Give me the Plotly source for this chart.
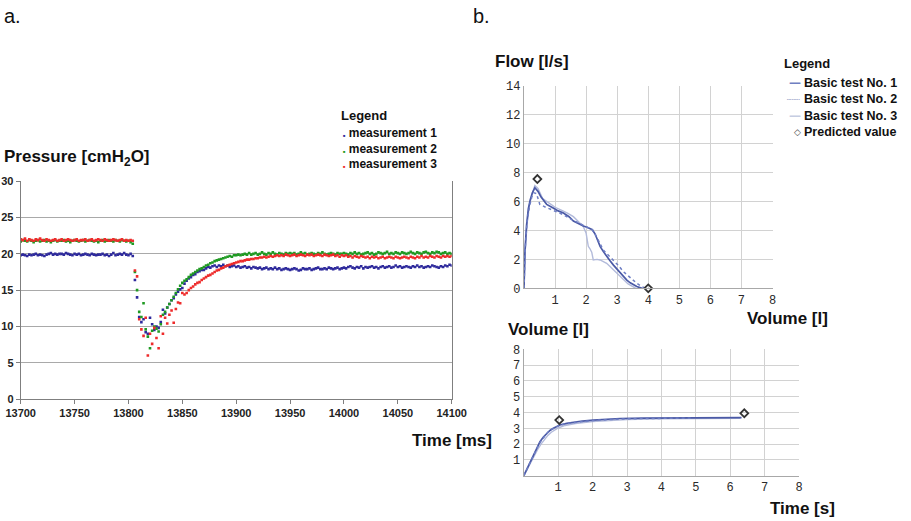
import plotly.graph_objects as go

W, H = 911, 521

# ---------------- Panel a data (pressure vs time, 2 ms sampling) ----------------
time_ms = list(range(13700, 14101, 2))

meas1 = [
    19.8, 19.9, 19.8, 19.7, 19.9, 19.8, 19.9, 20.0, 19.8, 19.9,
    19.8, 19.7, 19.9, 20.0, 20.1, 19.9, 20.0, 19.9, 20.0, 20.0,
    19.9, 20.1, 20.0, 19.9, 19.8, 20.0, 19.9, 20.0, 19.8, 19.9,
    20.0, 19.9, 19.8, 20.0, 19.9, 19.8, 19.9, 19.9, 20.0, 19.8,
    19.9, 19.7, 19.9, 20.1, 19.8, 19.9, 20.0, 19.9, 20.1, 19.9,
    19.8, 20.0, 19.7,
    16.4, 14.0, 11.3, 10.6, 11.0, 9.2, 9.0, 11.2, 10.3, 9.5,
    10.0, 9.8, 10.6, 12.3, 11.8, 12.6, 13.1, 13.6, 13.9, 14.4,
    14.8, 15.1, 15.3, 15.9, 16.3, 16.6, 16.8, 17.1, 17.2, 17.5,
    17.6, 17.8, 17.8, 18.0, 18.2, 18.1, 18.3, 18.4, 18.2, 18.4,
    18.3, 18.5, 18.3, 18.4, 18.2, 18.3, 18.4, 18.2,
    18.3, 18.1, 18.2, 18.3, 18.1, 18.2, 18.0, 18.2, 18.1, 18.0, 18.1, 17.9, 18.0,
    18.1, 17.9, 18.0, 17.9, 18.1, 17.9, 18.0, 17.8, 17.9, 18.0, 17.9, 17.8,
    17.9, 18.0, 17.9, 17.7, 17.8, 18.0, 17.9, 17.9, 18.0, 17.8, 17.9, 18.0, 18.1,
    17.9, 17.9, 18.0, 17.9, 18.1, 18.0, 17.9, 18.0, 18.1, 17.9, 18.0, 18.1,
    18.0, 18.2, 18.3, 18.1, 18.0, 18.2, 18.1, 18.3, 18.0, 18.2, 18.1, 18.2, 18.3,
    18.1, 18.2, 18.0, 18.2, 18.3, 18.1, 18.2, 18.3, 18.1, 18.2, 18.4, 18.2,
    18.3, 18.1, 18.2, 18.3, 18.2, 18.1, 18.3, 18.2, 18.4, 18.2, 18.3, 18.1, 18.2,
    18.3, 18.2, 18.4, 18.3, 18.2, 18.1, 18.3, 18.2, 18.4, 18.3, 18.5, 18.4,
]

meas2 = [
    21.7, 21.9, 21.8, 21.7, 21.9, 21.8, 21.6, 21.8, 21.9, 21.7,
    21.8, 21.9, 21.7, 21.8, 21.6, 21.8, 21.9, 21.7, 21.8, 21.8,
    21.9, 21.7, 21.8, 21.6, 21.8, 21.9, 21.8, 21.7, 21.8, 21.9,
    21.7, 21.8, 21.9, 21.8, 21.7, 21.8, 21.6, 21.8, 21.9, 21.7,
    21.8, 21.9, 21.8, 21.7, 21.9, 21.8, 21.7, 21.9, 21.8, 21.7,
    21.8, 21.6, 21.4,
    17.5, 15.0, 12.0, 11.3, 13.2, 9.6, 8.6, 7.0, 9.4, 10.0,
    9.7, 9.3, 10.3, 11.6, 12.0, 12.6, 13.1, 13.6, 14.1, 14.6,
    15.1, 15.6, 16.0, 16.3, 16.5, 16.8, 17.1, 17.3, 17.5, 17.7,
    17.9, 18.0, 18.2, 18.4, 18.5, 18.7, 18.8, 19.0, 19.1, 19.2,
    19.3, 19.4, 19.5, 19.6, 19.7, 19.6, 19.8, 19.8,
    19.9, 19.8, 19.9, 20.0, 19.9, 20.1, 19.9, 20.0, 20.1, 19.9, 20.0, 20.2, 20.0,
    19.9, 20.1, 20.0, 20.2, 20.0, 19.9, 20.1, 20.0, 19.9, 20.1, 20.0, 20.1,
    20.0, 20.1, 19.9, 20.0, 20.2, 20.0, 20.1, 19.9, 20.0, 20.1, 20.0, 19.9, 20.1,
    20.0, 20.2, 20.0, 19.9, 20.0, 20.1, 20.0, 19.9, 20.1, 20.0, 20.0, 20.1,
    20.0, 19.9, 20.1, 20.0, 20.2, 20.0, 20.1, 19.9, 20.0, 20.1, 20.2, 20.0, 20.1,
    19.9, 20.0, 20.2, 20.1, 20.0, 20.1, 20.3, 20.0, 20.1, 20.0, 20.2, 20.1,
    20.0, 20.2, 20.1, 20.0, 20.1, 20.3, 20.1, 20.0, 20.2, 20.1, 20.0, 20.2, 20.3,
    20.1, 20.0, 20.2, 20.1, 20.3, 20.2, 20.0, 20.1, 20.2, 20.0, 20.1, 20.0,
]

meas3 = [
    22.0, 21.9, 22.1, 21.8, 22.0, 21.9, 21.8, 22.0, 21.9, 22.1,
    21.9, 21.8, 22.0, 21.9, 21.8, 21.9, 22.0, 21.8, 21.9, 22.0,
    21.8, 21.9, 22.0, 21.9, 21.8, 21.9, 22.0, 21.8, 21.9, 21.9,
    22.0, 21.8, 21.9, 22.0, 21.8, 21.9, 22.0, 21.9, 21.8, 22.0,
    21.9, 21.8, 21.9, 22.0, 21.9, 21.8, 21.9, 22.0, 21.8, 21.9,
    21.8, 21.9, 21.8,
    17.7, 16.9, 11.0, 9.6, 8.7, 11.2, 6.0, 9.0, 7.6, 9.8,
    8.4, 7.0, 11.4, 9.0, 11.2, 10.4, 11.6, 12.2, 10.5, 12.4,
    13.3, 13.2, 14.6, 14.4, 14.6, 15.0, 15.3, 15.5, 15.8, 16.0,
    16.1, 16.4, 16.6, 16.8, 17.0, 17.1, 17.3, 17.5, 17.7, 17.8,
    18.0, 18.1, 18.3, 18.4, 18.5, 18.6, 18.7, 18.8,
    18.9, 19.0, 19.0, 19.1, 19.2, 19.2, 19.3, 19.3, 19.4, 19.4, 19.5, 19.5, 19.6,
    19.5, 19.6, 19.7, 19.6, 19.7, 19.8, 19.7, 19.8, 19.7, 19.9, 19.8, 19.7,
    19.8, 19.9, 19.7, 19.8, 19.9, 19.8, 19.7, 19.9, 19.8, 19.9, 19.7, 19.8, 19.9,
    19.8, 19.7, 19.9, 19.8, 19.7, 19.8, 19.9, 19.7, 19.8, 19.6, 19.8, 19.7,
    19.8, 19.6, 19.7, 19.5, 19.7, 19.6, 19.5, 19.7, 19.6, 19.5, 19.6, 19.4, 19.6,
    19.5, 19.6, 19.4, 19.5, 19.6, 19.4, 19.5, 19.6, 19.5, 19.4, 19.6, 19.5,
    19.4, 19.5, 19.6, 19.5, 19.4, 19.6, 19.5, 19.4, 19.6, 19.5, 19.7, 19.5, 19.6,
    19.5, 19.7, 19.6, 19.5, 19.7, 19.6, 19.5, 19.7, 19.6, 19.7, 19.6, 19.7,
]

# ---------------- Panel b data: flow-volume ----------------
fv_vol1 = [0, 0.03, 0.08, 0.14, 0.20, 0.27, 0.35, 0.45, 0.55, 0.73, 0.94, 1.10, 1.27, 1.45,
           1.59, 1.75, 1.91, 2.05, 2.12, 2.20, 2.29, 2.37, 2.45, 2.55, 2.66, 2.77, 2.88, 3.00,
           3.09, 3.20, 3.31, 3.42, 3.52, 3.63, 3.73, 3.80]
fv_flow1 = [0, 2.5, 4.3, 5.5, 6.1, 6.6, 6.95, 6.7, 6.3, 5.8, 5.55, 5.35, 5.2, 4.95,
            4.65, 4.45, 4.3, 4.2, 4.15, 4.05, 3.75, 3.3, 2.9, 2.55, 2.2, 1.9, 1.6, 1.3,
            1.05, 0.8, 0.57, 0.38, 0.23, 0.12, 0.05, 0]

fv_vol2 = [0, 0.04, 0.10, 0.18, 0.25, 0.32, 0.40, 0.51, 0.70, 0.94, 1.20, 1.50, 1.80, 2.05,
           2.20, 2.35, 2.55, 2.72, 2.88, 3.05, 3.20, 3.40, 3.63, 3.80, 3.92]
fv_flow2 = [0, 2.8, 4.6, 5.7, 6.3, 6.6, 6.55, 5.8, 5.6, 5.4, 5.15, 4.8, 4.45, 4.2,
            4.05, 3.5, 2.65, 2.3, 1.96, 1.55, 1.15, 0.75, 0.35, 0.1, 0]

fv_vol3 = [0, 0.04, 0.10, 0.18, 0.26, 0.35, 0.45, 0.60, 0.80, 1.00, 1.20, 1.40, 1.59, 1.75,
           1.90, 2.00, 2.07, 2.12, 2.18, 2.23, 2.35, 2.45, 2.55, 2.66, 2.77, 2.88, 3.05, 3.20,
           3.35, 3.52, 3.60]
fv_flow3 = [0, 2.6, 4.5, 5.8, 6.5, 7.1, 6.9, 6.2, 5.9, 5.6, 5.4, 5.2, 4.95, 4.6,
            4.3, 3.8, 2.9, 2.75, 2.5, 1.96, 2.0, 1.96, 1.85, 1.73, 1.5, 1.27, 0.95, 0.57,
            0.3, 0.1, 0]

pred_fv_vol = [0.43, 4.0]
pred_fv_flow = [7.55, 0.0]

# ---------------- Panel b data: volume-time ----------------
vt_t1 = [0, 0.1, 0.2, 0.28, 0.4, 0.47, 0.57, 0.67, 0.76, 0.86, 1.05, 1.25, 1.44, 1.7, 2.02,
         2.4, 2.8, 3.5, 4.2, 5.0, 5.7, 6.33]
vt_v1 = [0, 0.45, 0.92, 1.31, 1.85, 2.15, 2.45, 2.68, 2.86, 3.0, 3.21, 3.31, 3.38, 3.46, 3.52,
         3.58, 3.62, 3.65, 3.66, 3.67, 3.67, 3.68]
vt_t2 = [0, 0.1, 0.2, 0.3, 0.4, 0.5, 0.6, 0.7, 0.8, 0.9, 1.0, 1.2, 1.5, 1.8, 2.2, 2.6, 3.0,
         3.5, 4.0, 4.4, 4.85]
vt_v2 = [0, 0.47, 0.95, 1.38, 1.8, 2.2, 2.5, 2.75, 2.92, 3.05, 3.15, 3.28, 3.38, 3.45, 3.52,
         3.57, 3.6, 3.62, 3.63, 3.63, 3.64]
vt_t3 = [0, 0.1, 0.2, 0.3, 0.4, 0.5, 0.6, 0.7, 0.8, 0.9, 1.0, 1.2, 1.5, 2.0, 2.5, 3.0, 4.0,
         5.0, 6.0, 6.3]
vt_v3 = [0, 0.42, 0.85, 1.25, 1.65, 2.0, 2.3, 2.55, 2.75, 2.9, 3.02, 3.18, 3.3, 3.42, 3.5,
         3.55, 3.6, 3.62, 3.63, 3.64]
pred_vt_t = [1.03, 6.41]
pred_vt_v = [3.52, 3.95]

pressure_ticks = [0, 5, 10, 15, 20, 25, 30]
time_ticks = [13700, 13750, 13800, 13850, 13900, 13950, 14000, 14050, 14100]
flow_ticks = [0, 2, 4, 6, 8, 10, 12, 14]
grid8_ticks = [1, 2, 3, 4, 5, 6, 7, 8]

# ---------------- styling ----------------
SANS = "Liberation Sans, Arial, sans-serif"
MONO = "Liberation Mono, Courier New, monospace"
BLUE, GREEN, RED = "#2e2a9c", "#1f9a22", "#ee2b2b"
C1, C2, C3 = "#4b5aa6", "#6e7ec4", "#b3bbdb"
PRED = "#333333"


def fx(px):
    return px / W


def fy(py):
    return 1 - py / H


fig = go.Figure()

# panel a traces
for name, vals, col in [("measurement 1", meas1, BLUE),
                        ("measurement 2", meas2, GREEN),
                        ("measurement 3", meas3, RED)]:
    fig.add_trace(go.Scatter(x=time_ms, y=vals, mode="markers", name=name,
                             marker=dict(color=col, size=2.6, symbol="square"),
                             xaxis="x", yaxis="y", showlegend=False))

# flow-volume
fig.add_trace(go.Scatter(x=fv_vol3, y=fv_flow3, mode="lines", name="Basic test No. 3",
                         line=dict(color=C3, width=1.4), xaxis="x2", yaxis="y2", showlegend=False))
fig.add_trace(go.Scatter(x=fv_vol1, y=fv_flow1, mode="lines", name="Basic test No. 1",
                         line=dict(color=C1, width=1.7), xaxis="x2", yaxis="y2", showlegend=False))
fig.add_trace(go.Scatter(x=fv_vol2, y=fv_flow2, mode="lines", name="Basic test No. 2",
                         line=dict(color=C2, width=1.5, dash="dot"), xaxis="x2", yaxis="y2",
                         showlegend=False))
fig.add_trace(go.Scatter(x=pred_fv_vol, y=pred_fv_flow, mode="markers", name="Predicted value",
                         marker=dict(symbol="diamond-open", size=6, color=PRED, line=dict(width=1.8)),
                         xaxis="x2", yaxis="y2", showlegend=False, cliponaxis=False))

# volume-time
fig.add_trace(go.Scatter(x=vt_t3, y=vt_v3, mode="lines", name="Basic test No. 3",
                         line=dict(color=C3, width=1.4), xaxis="x3", yaxis="y3", showlegend=False))
fig.add_trace(go.Scatter(x=vt_t1, y=vt_v1, mode="lines", name="Basic test No. 1",
                         line=dict(color=C1, width=1.7), xaxis="x3", yaxis="y3", showlegend=False))
fig.add_trace(go.Scatter(x=vt_t2, y=vt_v2, mode="lines", name="Basic test No. 2",
                         line=dict(color=C2, width=1.5, dash="dot"), xaxis="x3", yaxis="y3",
                         showlegend=False))
fig.add_trace(go.Scatter(x=pred_vt_t, y=pred_vt_v, mode="markers", name="Predicted value",
                         marker=dict(symbol="diamond-open", size=6, color=PRED, line=dict(width=1.8)),
                         xaxis="x3", yaxis="y3", showlegend=False, cliponaxis=False))

tick_a = dict(family=SANS, size=11, color="#222222", weight="bold")
tick_b = dict(family=MONO, size=12, color="#2a2a2a")

fig.update_layout(
    width=W, height=H, autosize=False,
    margin=dict(l=0, r=0, t=0, b=0, autoexpand=False),
    paper_bgcolor="white", plot_bgcolor="white",
    showlegend=False,
    xaxis=dict(domain=[fx(20.7), fx(451.7)], range=[13700, 14100], tickvals=time_ticks,
               ticktext=[str(t) for t in time_ticks], automargin=False,
               showgrid=False, zeroline=False, showline=True, linecolor="#7f7f7f", linewidth=1,
               ticks="outside", ticklen=4, tickcolor="#7f7f7f", tickfont=tick_a, anchor="y"),
    yaxis=dict(domain=[fy(399), fy(181.3)], range=[0, 30], tickvals=pressure_ticks,
               automargin=False,
               showgrid=True, gridcolor="#a9a9a9", gridwidth=1, zeroline=False,
               showline=True, linecolor="#7f7f7f", linewidth=1, mirror=True,
               ticks="outside", ticklen=4, tickcolor="#7f7f7f", tickfont=tick_a, anchor="x"),
    xaxis2=dict(domain=[fx(524), fx(772.5)], range=[0, 8], tickvals=grid8_ticks,
                automargin=False,
                showgrid=True, gridcolor="#d2d2d2", gridwidth=1.3, zeroline=False,
                showline=True, linecolor="#a8a8a8", linewidth=1.3, ticks="",
                tickfont=tick_b, anchor="y2"),
    yaxis2=dict(domain=[fy(288.3), fy(85.7)], range=[0, 14], tickvals=flow_ticks,
                automargin=False,
                showgrid=True, gridcolor="#d2d2d2", gridwidth=1.3, zeroline=False,
                showline=True, linecolor="#a8a8a8", linewidth=1.3, ticks="",
                tickfont=tick_b, anchor="x2"),
    xaxis3=dict(domain=[fx(523.8), fx(799)], range=[0, 8], tickvals=grid8_ticks,
                automargin=False,
                showgrid=True, gridcolor="#d2d2d2", gridwidth=1.3, zeroline=False,
                showline=True, linecolor="#a8a8a8", linewidth=1.3, ticks="",
                tickfont=tick_b, anchor="y3"),
    yaxis3=dict(domain=[fy(475.7), fy(349.3)], range=[0, 8], tickvals=grid8_ticks,
                automargin=False,
                showgrid=True, gridcolor="#d2d2d2", gridwidth=1.3, zeroline=False,
                showline=True, linecolor="#a8a8a8", linewidth=1.3, ticks="",
                tickfont=tick_b, anchor="x3"),
)

ann = []


def text(t, px, py, size, bold=True, xanchor="left", color="#111111", family=SANS, align="left"):
    ann.append(dict(text=t, x=fx(px), y=fy(py), xref="paper", yref="paper",
                    xanchor=xanchor, yanchor="middle", showarrow=False, align=align,
                    font=dict(family=family, size=size, color=color,
                              weight="bold" if bold else "normal")))


# panel labels
text("a.", 2, 16, 20, bold=False)
text("b.", 471, 16, 20, bold=False)

# panel a titles
text("Pressure [cmH<sub>2</sub>O]", 2, 158, 17)
text("Time [ms]", 410, 440, 17)

# panel a legend (single block of text with coloured marker glyphs)
text("Legend", 339, 116, 13)
leg_a_lines = []
for name, col in [("measurement 1", BLUE), ("measurement 2", GREEN), ("measurement 3", RED)]:
    leg_a_lines.append("<span style='color:%s;font-size:4px'>■</span> %s" % (col, name))
text("<br>".join(leg_a_lines), 341, 148, 12)

# panel b titles
text("Flow [l/s]", 493, 62, 17)
text("Volume [l]", 745, 318, 17)
text("Volume [l]", 506, 329, 17)
text("Time [s]", 768, 508, 17)

# panel b legend
text("Legend", 782, 64, 13)
leg_b = [("Basic test No. 1", "—", "#6f7fc2", 12),
         ("Basic test No. 2", "┈┈", "#a4acce", 11),
         ("Basic test No. 3", "—", "#c6cde2", 12),
         ("Predicted value", "◇", "#444444", 9)]
for i, (name, sym, col, fs) in enumerate(leg_b):
    yy = 82.5 + i * 16.6
    text(sym, 803, yy, fs, bold=(sym != "◇"), xanchor="right", color=col,
         family="DejaVu Sans, sans-serif")
    text(name, 802, yy, 12.5)

fig.update_layout(annotations=ann)

fig.write_html("out.html")
